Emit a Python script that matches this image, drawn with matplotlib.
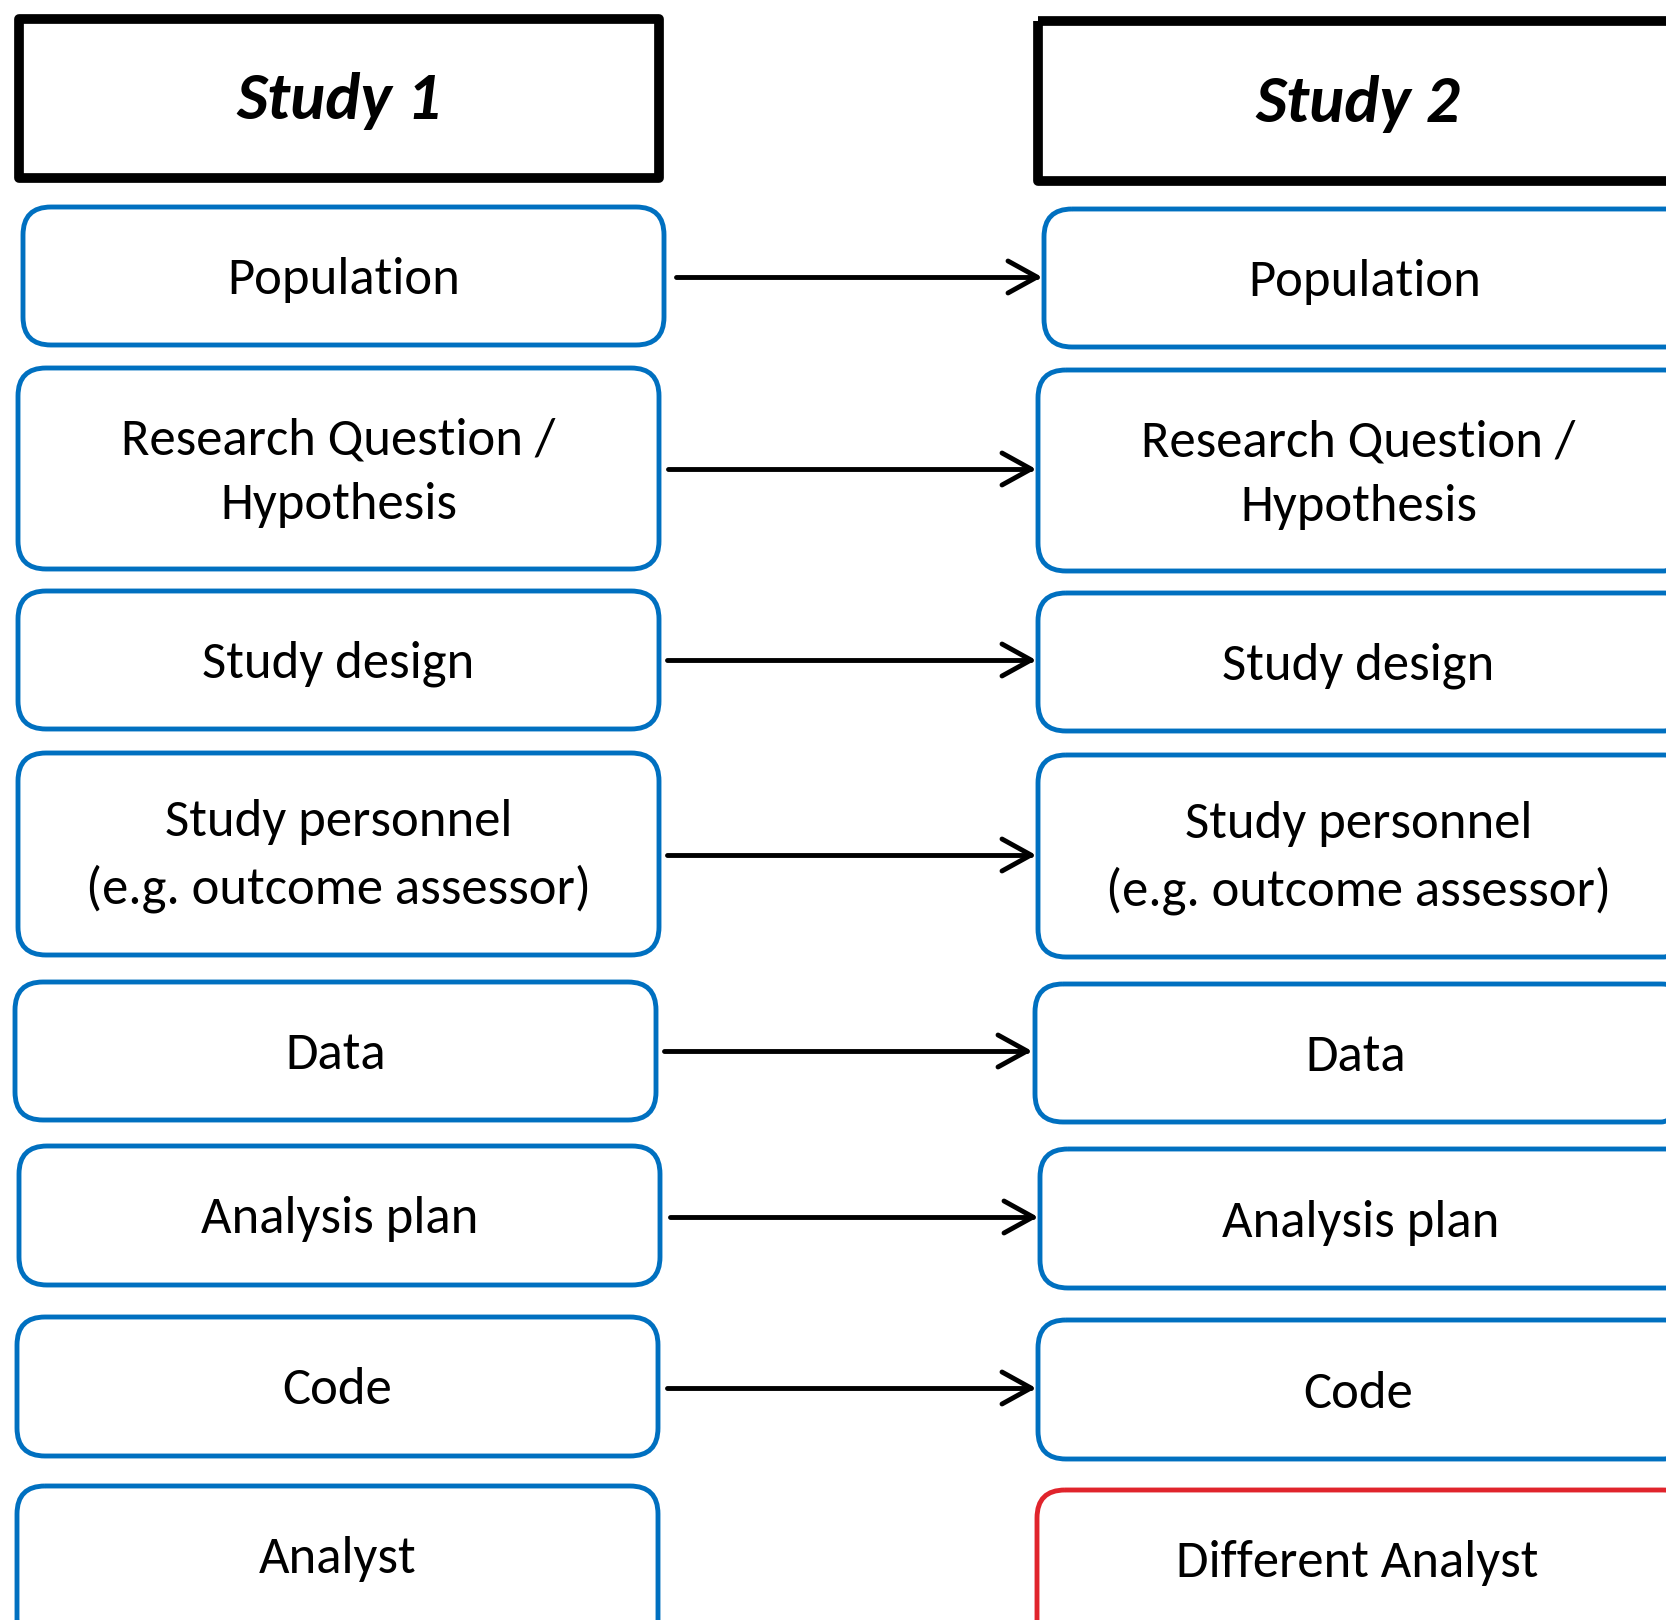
import matplotlib
matplotlib.use("Agg")
import matplotlib.pyplot as plt
from matplotlib.patches import FancyBboxPatch, Rectangle

# ---- content ----
headers = ["Study 1", "Study 2"]
left_labels = ["Population", "Research Question /\nHypothesis", "Study design",
               "Study personnel\n(e.g. outcome assessor)", "Data", "Analysis plan",
               "Code", "Analyst"]
right_labels = ["Population", "Research Question /\nHypothesis", "Study design",
                "Study personnel\n(e.g. outcome assessor)", "Data", "Analysis plan",
                "Code", "Different Analyst"]
right_edge_colors = ["blue"] * 7 + ["red"]
arrow_rows = [0, 1, 2, 3, 4, 5, 6]

# ---- layout (pixels) ----
W, H = 1666, 1620
BOX_W = 641
RIGHT_BOX_W = 654
left_x = [23, 18, 18, 18, 15, 19, 17, 17]
right_x = [1044, 1038, 1038, 1038, 1035, 1040, 1038, 1037]
left_top = [207, 368, 591, 753, 982, 1146, 1317, 1486]
right_top = [209, 370, 593, 755, 984, 1149, 1320, 1490]
box_h = [138, 201, 138, 202, 138, 139, 139, 162]
text_h = [138, 201, 138, 198, 138, 139, 139, 139]
arrow_y = [277, 469, 660, 855, 1051, 1217, 1388]
arrow_x0 = [676, 668, 667, 667, 664, 670, 667]
arrow_x1 = [1037, 1031, 1031, 1031, 1027, 1033, 1031]
header_boxes = [(19, 19, 640, 159), (1038, 21, 660, 160)]

COLORS = {"blue": "#0070C0", "red": "#E0242C"}
FONT = ["Carlito", "Lato", "DejaVu Sans"]

fig = plt.figure(figsize=(W / 100, H / 100), dpi=100)
ax = fig.add_axes([0, 0, 1, 1])
ax.set_xlim(0, W)
ax.set_ylim(H, 0)
ax.axis("off")

# headers
for (x, y, w, h), t in zip(header_boxes, headers):
    ax.add_patch(Rectangle((x, y), w, h, fill=False, edgecolor="black",
                           linewidth=7.0, joinstyle="round"))
    ax.text(x + 640 / 2, y + h / 2 + 3, t, fontsize=48, fontweight="bold",
            fontstyle="italic", family=FONT, ha="center", va="center")

def draw_box(x, y, w, h, th, label, color):
    ax.add_patch(FancyBboxPatch((x, y), w, h,
                                boxstyle="round,pad=0,rounding_size=28",
                                fill=False, edgecolor=color, linewidth=3.5))
    ax.text(x + BOX_W / 2, y + th / 2 + 4, label, fontsize=38, family=FONT,
            ha="center", va="center", linespacing=1.5)

for i, lab in enumerate(left_labels):
    draw_box(left_x[i], left_top[i], BOX_W, box_h[i], text_h[i], lab,
             COLORS["blue"])
for i, lab in enumerate(right_labels):
    draw_box(right_x[i], right_top[i], RIGHT_BOX_W, box_h[i], text_h[i], lab,
             COLORS[right_edge_colors[i]])

# arrows
for r in arrow_rows:
    y, x0, x1 = arrow_y[r], arrow_x0[r], arrow_x1[r]
    kw = dict(color="black", linewidth=3.5, solid_capstyle="round",
              solid_joinstyle="round")
    ax.plot([x0, x1], [y, y], **kw)
    ax.plot([x1 - 29, x1, x1 - 29], [y - 16, y, y + 16], **kw)

fig.savefig("out.png", dpi=100)
